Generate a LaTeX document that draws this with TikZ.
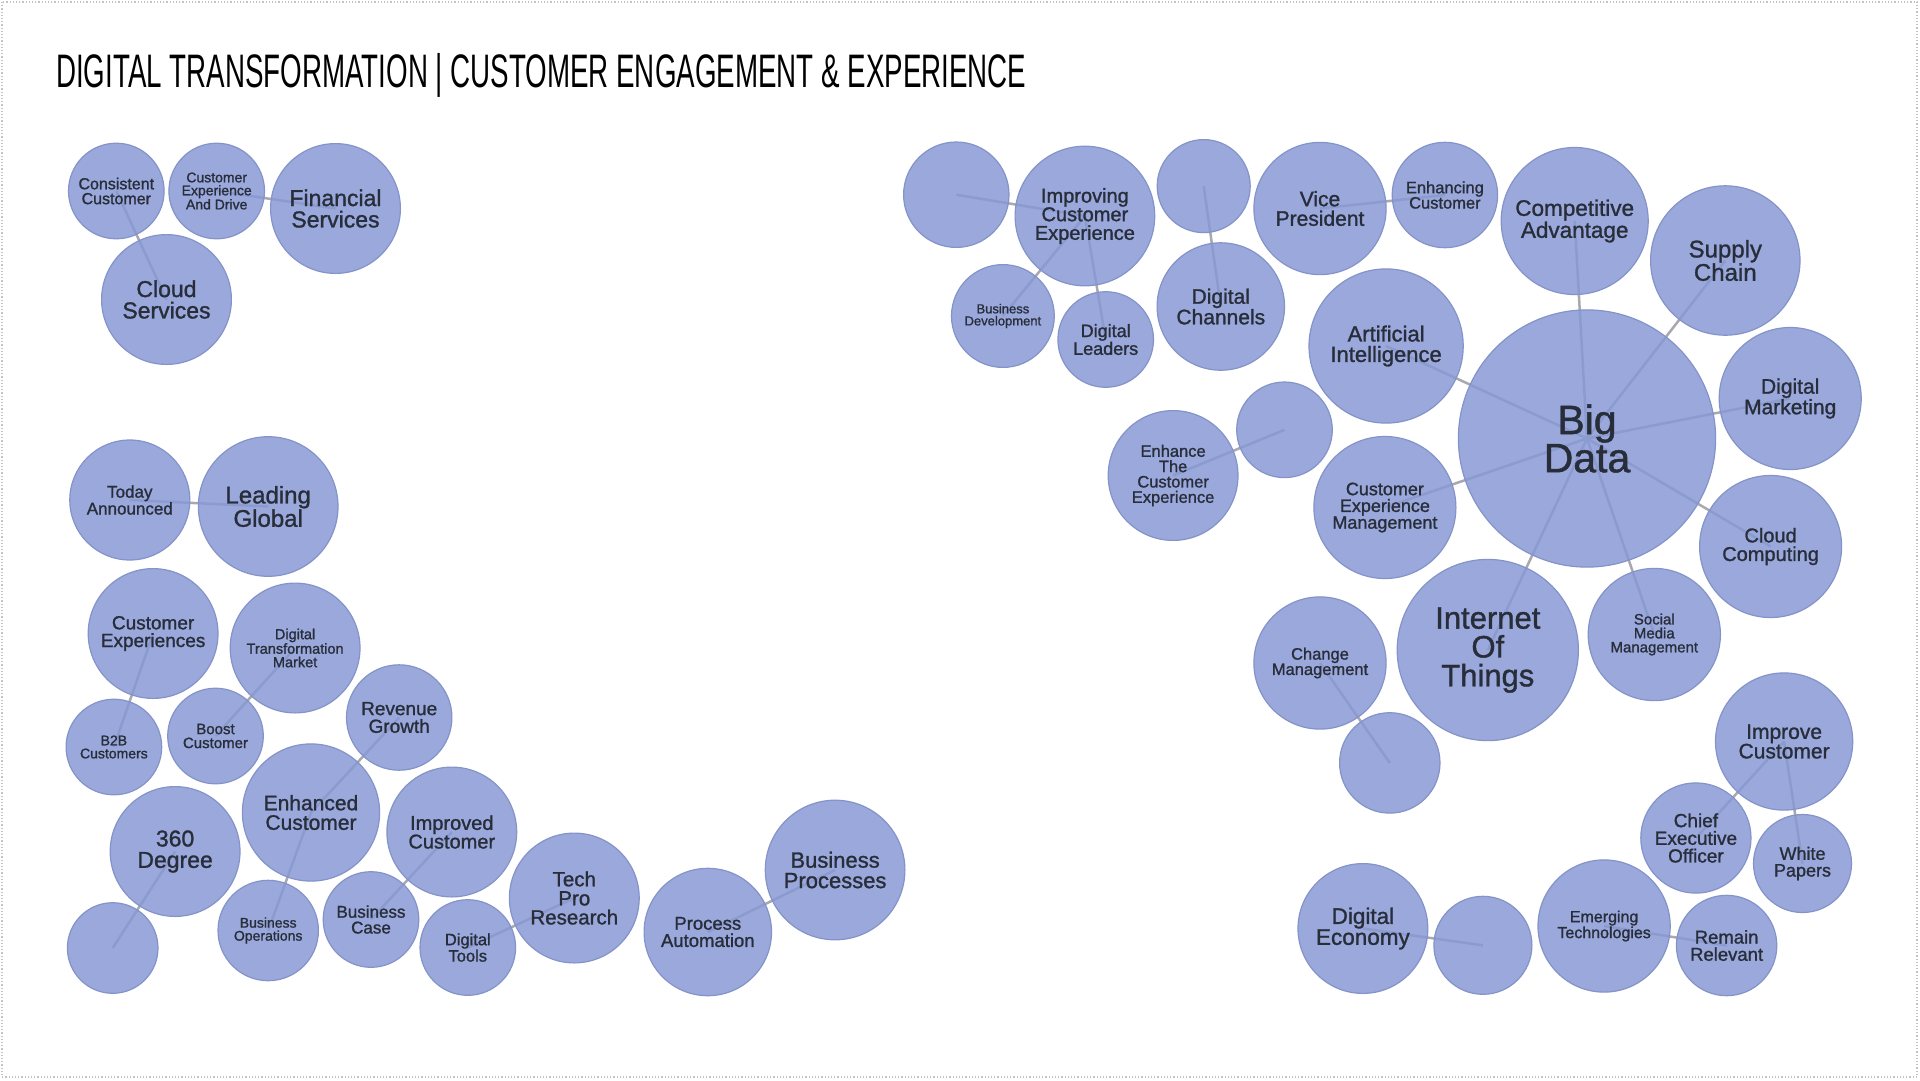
\documentclass[tikz,border=0pt]{standalone}
\usepackage{fontspec}
\usepackage{xcolor}
\newfontfamily\bubfont{Liberation Sans}[BoldFont={Liberation Sans}, BoldFeatures={FakeBold=1.2}]
\newfontfamily\titlefont{Liberation Sans}[FakeStretch=0.59]
\definecolor{bubblefill}{RGB}{136,153,213}
\definecolor{bubbleedge}{RGB}{132,147,200}
\definecolor{bubbletext}{RGB}{40,45,58}
\definecolor{linkgray}{RGB}{168,168,176}
\definecolor{framegray}{RGB}{195,195,195}
\newcommand{\bsz}[1]{\fontsize{#1}{\fpeval{0.93*#1}}\selectfont}
\pgfdeclarelayer{background}
\pgfsetlayers{background,main}
\tikzset{
  bubble/.style={circle, fill=bubblefill, fill opacity=0.85, text opacity=1,
    draw=bubbleedge, line width=1.2pt, inner sep=0pt, align=center, text=bubbletext},
  rad/.style={minimum size=2*#1pt},
  fs/.style={font=\bubfont\bfseries\bsz{#1}},
  link/.style={draw=linkgray, line width=2.5pt},
}

\begin{document}
\begin{tikzpicture}[x=1pt,y=-1pt]
        \useasboundingbox (0,0) rectangle (1920,1080);
        \draw[framegray, dotted, line width=1.2pt] (2,2) rectangle (1917,1077);

        % Title
        \node[anchor=base west, inner sep=0pt, font=\titlefont\fontsize{47}{47}\selectfont] (title) at (56,87)
            {DIGITAL TRANSFORMATION | CUSTOMER ENGAGEMENT \& EXPERIENCE};

        % Cloud cluster
        \node[bubble, rad=47.8, fs=16] (cons) at (116.3,191) {Consistent\\Customer};
        \node[bubble, rad=47.8, fs=14] (cead) at (216.7,191) {Customer\\Experience\\And Drive};
        \node[bubble, rad=64.9, fs=23] (fin) at (335.5,208.5) {Financial\\Services};
        \node[bubble, rad=64.9, fs=23] (cloud) at (166.5,299.5) {Cloud\\Services};

        % Leading cluster
        \node[bubble, rad=60, fs=17] (today) at (129.8,500) {Today\\Announced};
        \node[bubble, rad=69.8, fs=24] (leading) at (268.2,506.5) {Leading\\Global};

        % Customer cluster
        \node[bubble, rad=64.9, fs=19] (cexps) at (153.1,633.5) {Customer\\Experiences};
        \node[bubble, rad=64.9, fs=14.5] (dtm) at (295.1,648) {Digital\\Transformation\\Market};
        \node[bubble, rad=47.8, fs=14] (b2b) at (113.9,747) {B2B\\Customers};
        \node[bubble, rad=47.8, fs=15] (boost) at (215.5,736) {Boost\\Customer};
        \node[bubble, rad=52.7, fs=19] (revenue) at (399.2,717.5) {Revenue\\Growth};
        \node[bubble, rad=68.6, fs=21] (enhanced) at (311,812.5) {Enhanced\\Customer};
        \node[bubble, rad=64.9, fs=20] (improved) at (451.8,832) {Improved\\Customer};
        \node[bubble, rad=64.9, fs=23] (degree) at (175.1,851.5) {360\\Degree};
        \node[bubble, rad=45.3] (blankA) at (112.7,948) {};
        \node[bubble, rad=50.2, fs=14] (bizops) at (268.2,930.5) {Business\\Operations};
        \node[bubble, rad=47.8, fs=17] (bizcase) at (371,919.5) {Business\\Case};
        \node[bubble, rad=47.8, fs=16.5] (tools) at (467.8,947.5) {Digital\\Tools};
        \node[bubble, rad=64.9, fs=20.5] (techpro) at (574.3,898) {Tech\\Pro\\Research};
        \node[bubble, rad=63.7, fs=18.5] (procauto) at (707.8,932) {Process\\Automation};
        \node[bubble, rad=69.8, fs=22] (bizproc) at (835.1,870) {Business\\Processes};

        % Experience cluster
        \node[bubble, rad=52.7] (blankB) at (956.3,194.7) {};
        \node[bubble, rad=69.8, fs=20] (improving) at (1084.9,216) {Improving\\Customer\\Experience};
        \node[bubble, rad=51.4, fs=13] (bizdev) at (1002.9,316) {Business\\Development};
        \node[bubble, rad=47.8, fs=18] (leaders) at (1105.7,339.5) {Digital\\Leaders};
        \node[bubble, rad=46.5] (blankC) at (1203.7,186.1) {};
        \node[bubble, rad=63.7, fs=21] (channels) at (1220.8,306.5) {Digital\\Channels};
        \node[bubble, rad=66.1, fs=21] (vice) at (1320,208.5) {Vice\\President};
        \node[bubble, rad=52.7, fs=16.5] (enhancing) at (1444.9,195) {Enhancing\\Customer};

        % Big Data cluster
        \node[bubble, rad=128.6, fs=41] (big) at (1587,438.5) {Big\\Data};
        \node[bubble, rad=73.5, fs=22.5] (compadv) at (1574.7,221) {Competitive\\Advantage};
        \node[bubble, rad=74.7, fs=24] (supply) at (1725.3,260.5) {Supply\\Chain};
        \node[bubble, rad=71, fs=21] (marketing) at (1790.2,398.5) {Digital\\Marketing};
        \node[bubble, rad=71, fs=20] (cloudcomp) at (1770.6,546.5) {Cloud\\Computing};
        \node[bubble, rad=66.1, fs=15] (social) at (1654.3,634.5) {Social\\Media\\Management};
        \node[bubble, rad=90.6, fs=31] (iot) at (1487.8,650) {Internet\\Of\\Things};
        \node[bubble, rad=71, fs=18] (cem) at (1384.9,507.5) {Customer\\Experience\\Management};
        \node[bubble, rad=77.1, fs=22] (ai) at (1386.1,346) {Artificial\\Intelligence};
        \node[bubble, rad=47.8] (blankD) at (1284.5,429.8) {};
        \node[bubble, rad=64.9, fs=16.5] (etce) at (1173.1,475.5) {Enhance\\The\\Customer\\Experience};
        \node[bubble, rad=66.1, fs=16.5] (change) at (1320,663) {Change\\Management};
        \node[bubble, rad=50.2] (blankE) at (1389.8,762.9) {};

        % Economy cluster
        \node[bubble, rad=68.6, fs=21] (improve) at (1784.1,741.5) {Improve\\Customer};
        \node[bubble, rad=55.1, fs=19] (ceo) at (1695.9,838) {Chief\\Executive\\Officer};
        \node[bubble, rad=49, fs=18] (white) at (1802.5,863.5) {White\\Papers};
        \node[bubble, rad=64.9, fs=22.5] (digecon) at (1362.9,928.5) {Digital\\Economy};
        \node[bubble, rad=49] (blankF) at (1482.9,945.3) {};
        \node[bubble, rad=66.1, fs=16] (emerging) at (1604.1,926) {Emerging\\Technologies};
        \node[bubble, rad=50.2, fs=18.5] (remain) at (1726.6,945.5) {Remain\\Relevant};

        % Links
        \begin{pgfonlayer}{background}
            \draw[link] (cons.center) -- (cloud.center);
            \draw[link] (cead.center) -- (fin.center);
            \draw[link] (today.center) -- (leading.center);
            \draw[link] (cexps.center) -- (b2b.center);
            \draw[link] (dtm.center) -- (boost.center);
            \draw[link] (revenue.center) -- (enhanced.center) -- (bizops.center);
            \draw[link] (degree.center) -- (blankA.center);
            \draw[link] (improved.center) -- (bizcase.center);
            \draw[link] (tools.center) -- (techpro.center);
            \draw[link] (procauto.center) -- (bizproc.center);
            \draw[link] (blankB.center) -- (improving.center);
            \draw[link] (improving.center) -- (bizdev.center);
            \draw[link] (improving.center) -- (leaders.center);
            \draw[link] (blankC.center) -- (channels.center);
            \draw[link] (vice.center) -- (enhancing.center);
            \foreach \n in {compadv,supply,marketing,cloudcomp,social,iot,cem,ai}
                \draw[link] (big.center) -- (\n.center);
            \draw[link] (blankD.center) -- (etce.center);
            \draw[link] (change.center) -- (blankE.center);
            \draw[link] (improve.center) -- (ceo.center);
            \draw[link] (improve.center) -- (white.center);
            \draw[link] (digecon.center) -- (blankF.center);
            \draw[link] (emerging.center) -- (remain.center);
        \end{pgfonlayer}
    \end{tikzpicture}
\end{document}
